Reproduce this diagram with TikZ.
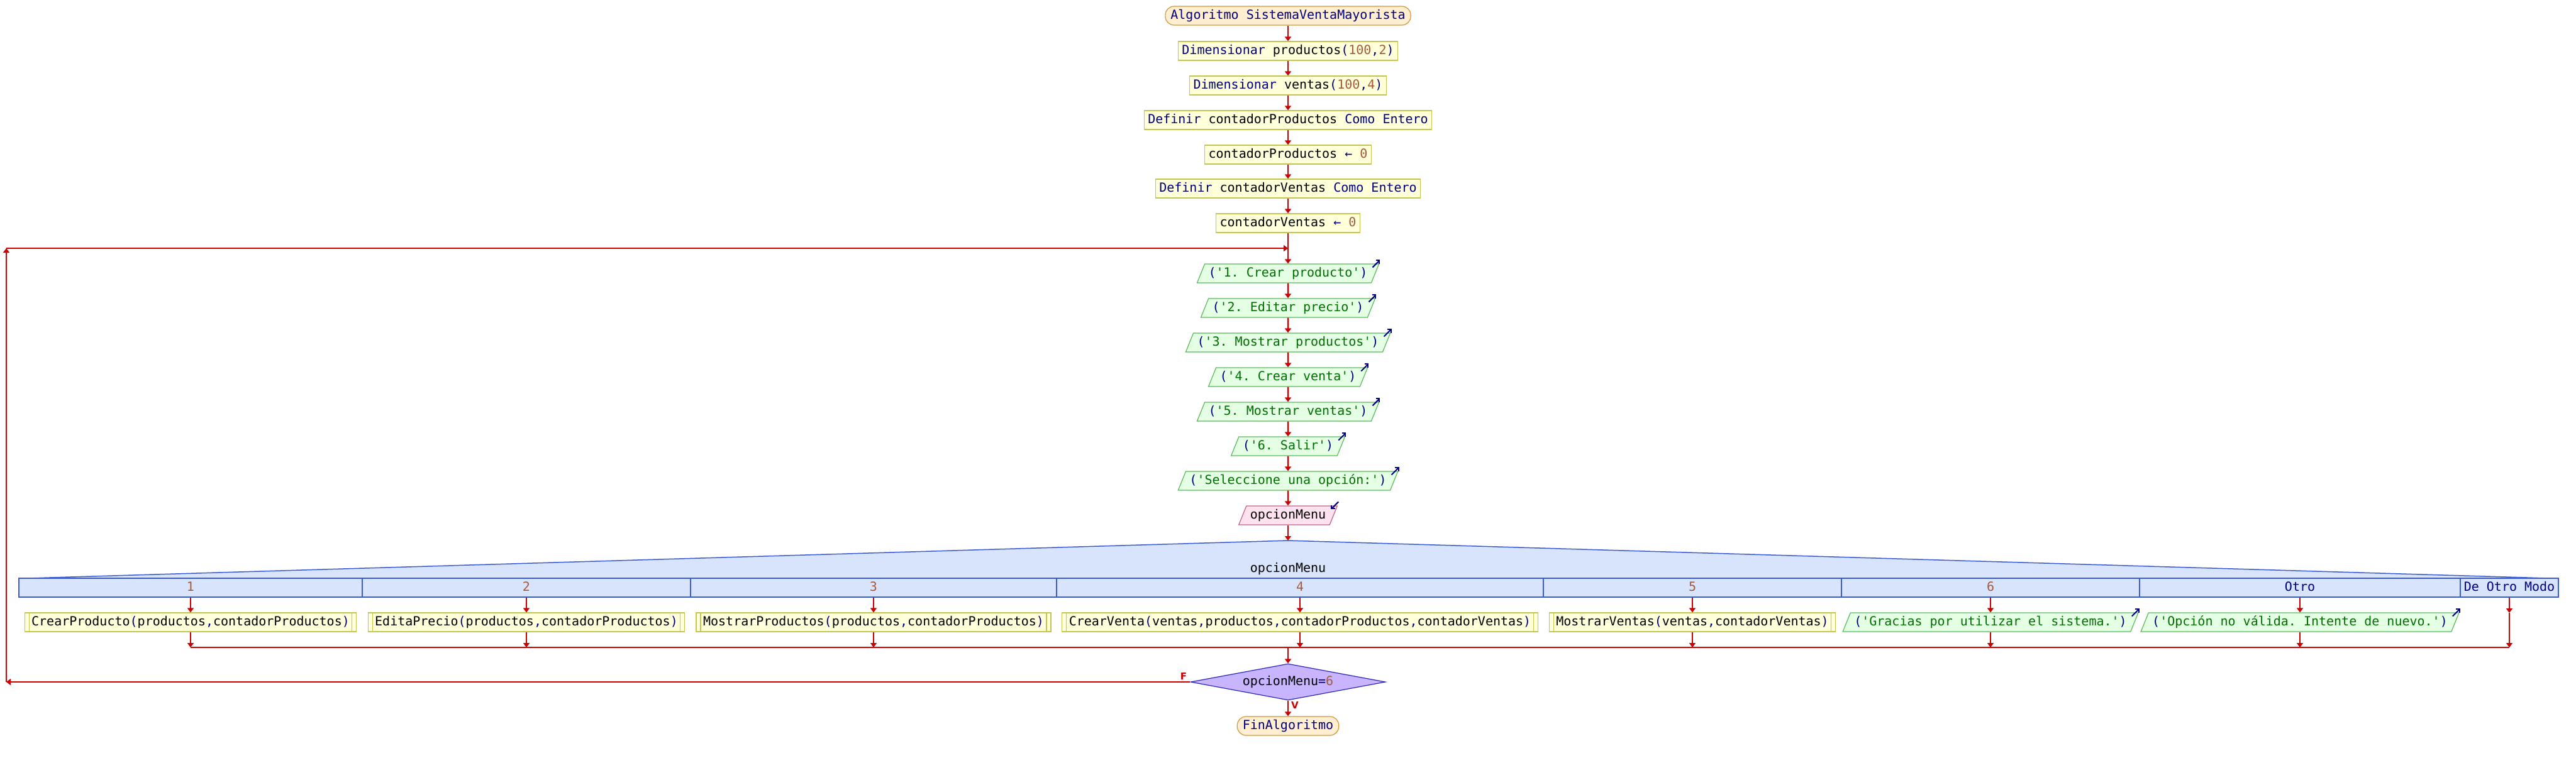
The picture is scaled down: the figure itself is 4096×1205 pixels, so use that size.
\documentclass[tikz,border=0pt]{standalone}
\usepackage{fontspec}
\setmonofont{DejaVu Sans Mono}
\setsansfont{DejaVu Sans}
\usetikzlibrary{arrows.meta,calc,shapes.geometric}

\definecolor{flujo}{RGB}{204,0,0}
\definecolor{clave}{RGB}{0,0,128}
\definecolor{numero}{RGB}{165,90,55}
\definecolor{cadena}{RGB}{0,110,0}
\definecolor{inicioF}{RGB}{255,238,208}
\definecolor{inicioB}{RGB}{210,150,60}
\definecolor{procF}{RGB}{255,255,218}
\definecolor{procB}{RGB}{196,196,80}
\definecolor{salF}{RGB}{228,255,228}
\definecolor{salB}{RGB}{90,185,90}
\definecolor{entF}{RGB}{255,226,240}
\definecolor{entB}{RGB}{196,96,136}
\definecolor{casoF}{RGB}{216,228,252}
\definecolor{casoB}{RGB}{60,90,210}
\definecolor{decF}{RGB}{200,180,255}
\definecolor{decB}{RGB}{40,40,190}

\def\kw#1{\textcolor{clave}{#1}}
\def\nm#1{\textcolor{numero}{#1}}
\def\st#1{\textcolor{cadena}{#1}}

\tikzset{
	caja/.style={draw, line width=1.2pt, text height=16pt, text depth=4.5pt, inner ysep=4.75pt, inner xsep=6pt},
	inicio/.style={caja, fill=inicioF, draw=inicioB, rounded corners=14pt, inner xsep=8.5pt},
	proceso/.style={caja, fill=procF, draw=procB},
	subproceso/.style={proceso, inner xsep=11pt, path picture={
			\draw[procB, line width=1.2pt] ([xshift=7pt]path picture bounding box.north west) -- ([xshift=7pt]path picture bounding box.south west)
			([xshift=-7pt]path picture bounding box.north east) -- ([xshift=-7pt]path picture bounding box.south east);}},
	salida/.style={caja, fill=salF, draw=salB, trapezium, trapezium stretches=true, trapezium left angle=68, trapezium right angle=112},
	entrada/.style={caja, fill=entF, draw=entB, trapezium, trapezium stretches=true, trapezium left angle=68, trapezium right angle=112},
	celda/.style={caja, fill=casoF, draw=casoB, inner xsep=0pt},
	decision/.style={diamond, draw=decB, fill=decF, line width=1.2pt, aspect=5.3, minimum width=310pt, minimum height=58pt, inner sep=0pt},
	flecha/.style={draw=flujo, line width=2.5pt, -{Triangle[length=7pt,width=10pt]}},
	linea/.style={draw=flujo, line width=2.5pt},
	aviso/.style={draw=clave, line width=2pt, -{Straight Barb[length=4pt,width=8pt]}},
	etiqueta/.style={text=flujo, inner sep=0pt, font=\sffamily\bfseries\fontsize{15}{18}\selectfont}
}

\begin{document}
\begin{tikzpicture}[x=1pt, y=-1pt, font=\ttfamily\fontsize{20}{24}\selectfont]
	%%%%% START %%%%%
	\useasboundingbox (0,0) rectangle (4096,1205);
	
	\node[inicio] (ini) at (2048,25) {\kw{Algoritmo SistemaVentaMayorista}};
	\node[proceso] (dim1) at (2048,81) {\kw{Dimensionar} productos\kw{(}\nm{100}\kw{,}\nm{2}\kw{)}};
	\node[proceso] (dim2) at (2048,136) {\kw{Dimensionar} ventas\kw{(}\nm{100}\kw{,}\nm{4}\kw{)}};
	\node[proceso] (def1) at (2048,191) {\kw{Definir} contadorProductos \kw{Como Entero}};
	\node[proceso] (asg1) at (2048,246) {contadorProductos \kw{←} \nm{0}};
	\node[proceso] (def2) at (2048,300) {\kw{Definir} contadorVentas \kw{Como Entero}};
	\node[proceso] (asg2) at (2048,355) {contadorVentas \kw{←} \nm{0}};
	
	\node[salida] (s1) at (2048,435) {\kw{(}\st{'1. Crear producto'}\kw{)}};
	\node[salida] (s2) at (2048,490) {\kw{(}\st{'2. Editar precio'}\kw{)}};
	\node[salida] (s3) at (2048,545) {\kw{(}\st{'3. Mostrar productos'}\kw{)}};
	\node[salida] (s4) at (2048,600) {\kw{(}\st{'4. Crear venta'}\kw{)}};
	\node[salida] (s5) at (2048,655) {\kw{(}\st{'5. Mostrar ventas'}\kw{)}};
	\node[salida] (s6) at (2048,710) {\kw{(}\st{'6. Salir'}\kw{)}};
	\node[salida] (s7) at (2048,765) {\kw{(}\st{'Seleccione una opción:'}\kw{)}};
	\node[entrada] (lee) at (2048,820) {opcionMenu};
	
	\draw[aviso] ($(s1.top right corner)+(-11,6)$) -- ++(12,-12);
	\draw[aviso] ($(s2.top right corner)+(-11,6)$) -- ++(12,-12);
	\draw[aviso] ($(s3.top right corner)+(-11,6)$) -- ++(12,-12);
	\draw[aviso] ($(s4.top right corner)+(-11,6)$) -- ++(12,-12);
	\draw[aviso] ($(s5.top right corner)+(-11,6)$) -- ++(12,-12);
	\draw[aviso] ($(s6.top right corner)+(-11,6)$) -- ++(12,-12);
	\draw[aviso] ($(s7.top right corner)+(-11,6)$) -- ++(12,-12);
	\draw[aviso] ($(lee.top right corner)+(1,-6)$) -- ++(-12,12);
	
	% segun
	\coordinate (cima) at (2048,860);
	\draw[fill=casoF, draw=casoB, line width=1.5pt] (45,920) -- (cima) -- (4052,920);
	\node[inner sep=0pt, text height=16pt, text depth=4.5pt] (selector) at (2048,905) {opcionMenu};
	
	\node[celda, minimum width=546pt] (c1) at (303,935) {\nm{1}};
	\node[celda, minimum width=522pt] (c2) at (837,935) {\nm{2}};
	\node[celda, minimum width=582pt] (c3) at (1389,935) {\nm{3}};
	\node[celda, minimum width=774pt] (c4) at (2067,935) {\nm{4}};
	\node[celda, minimum width=474pt] (c5) at (2691,935) {\nm{5}};
	\node[celda, minimum width=474pt] (c6) at (3165,935) {\nm{6}};
	\node[celda, minimum width=510pt] (c7) at (3657,935) {\kw{Otro}};
	\node[celda, minimum width=156pt] (c8) at (3990,935) {\kw{De Otro Modo}};
	
	\node[subproceso] (b1) at (303,990) {CrearProducto\kw{(}productos\kw{,}contadorProductos\kw{)}};
	\node[subproceso] (b2) at (837,990) {EditaPrecio\kw{(}productos\kw{,}contadorProductos\kw{)}};
	\node[subproceso] (b3) at (1389,990) {MostrarProductos\kw{(}productos\kw{,}contadorProductos\kw{)}};
	\node[subproceso] (b4) at (2067,990) {CrearVenta\kw{(}ventas\kw{,}productos\kw{,}contadorProductos\kw{,}contadorVentas\kw{)}};
	\node[subproceso] (b5) at (2691,990) {MostrarVentas\kw{(}ventas\kw{,}contadorVentas\kw{)}};
	\node[salida] (b6) at (3165,990) {\kw{(}\st{'Gracias por utilizar el sistema.'}\kw{)}};
	\node[salida] (b7) at (3657,990) {\kw{(}\st{'Opción no válida. Intente de nuevo.'}\kw{)}};
	\draw[aviso] ($(b6.top right corner)+(-11,6)$) -- ++(12,-12);
	\draw[aviso] ($(b7.top right corner)+(-11,6)$) -- ++(12,-12);
	
	\node[decision] (cond) at (2048,1085) {opcionMenu\kw{=}\nm{6}};
	\node[inicio] (fin) at (2048,1155) {\kw{FinAlgoritmo}};
	\node[etiqueta] (lblF) at (1882,1076) {F};
	\node[etiqueta] (lblV) at (2059,1122) {V};
	
	% flujo
	\coordinate (retorno) at (2048,395);
	\coordinate (esqArriba) at (10,395);
	\coordinate (esqAbajo) at (10,1085);
	\coordinate (union) at (2048,1030);
	\coordinate (u1) at (303,1030);
	\coordinate (u2) at (837,1030);
	\coordinate (u3) at (1389,1030);
	\coordinate (u4) at (2067,1030);
	\coordinate (u5) at (2691,1030);
	\coordinate (u6) at (3165,1030);
	\coordinate (u7) at (3657,1030);
	\coordinate (u8) at (3990,1030);
	\coordinate (vacio) at (3990,975);
	
	\draw[flecha] (ini) -- (dim1);
	\draw[flecha] (dim1) -- (dim2);
	\draw[flecha] (dim2) -- (def1);
	\draw[flecha] (def1) -- (asg1);
	\draw[flecha] (asg1) -- (def2);
	\draw[flecha] (def2) -- (asg2);
	\draw[flecha] (asg2) -- (s1);
	\draw[flecha] (s1) -- (s2);
	\draw[flecha] (s2) -- (s3);
	\draw[flecha] (s3) -- (s4);
	\draw[flecha] (s4) -- (s5);
	\draw[flecha] (s5) -- (s6);
	\draw[flecha] (s6) -- (s7);
	\draw[flecha] (s7) -- (lee);
	\draw[flecha] (lee) -- (cima);
	
	\draw[flecha] (c1) -- (b1);
	\draw[flecha] (c2) -- (b2);
	\draw[flecha] (c3) -- (b3);
	\draw[flecha] (c4) -- (b4);
	\draw[flecha] (c5) -- (b5);
	\draw[flecha] (c6) -- (b6);
	\draw[flecha] (c7) -- (b7);
	\draw[flecha] (c8) -- (vacio);
	
	\draw[flecha] (b1) -- (u1);
	\draw[flecha] (b2) -- (u2);
	\draw[flecha] (b3) -- (u3);
	\draw[flecha] (b4) -- (u4);
	\draw[flecha] (b5) -- (u5);
	\draw[flecha] (b6) -- (u6);
	\draw[flecha] (b7) -- (u7);
	\draw[flecha] (vacio) -- (u8);
	\draw[linea] (u1) -- (u8);
	
	\draw[flecha] (union) -- (cond);
	\draw[flecha] (cond) -- (fin);
	\draw[flecha] (cond.west) -- (esqAbajo);
	\draw[flecha] (esqAbajo) -- (esqArriba);
	\draw[flecha] (esqArriba) -- (retorno);
	
	%%%%% END %%%%%
\end{tikzpicture}
\end{document}
